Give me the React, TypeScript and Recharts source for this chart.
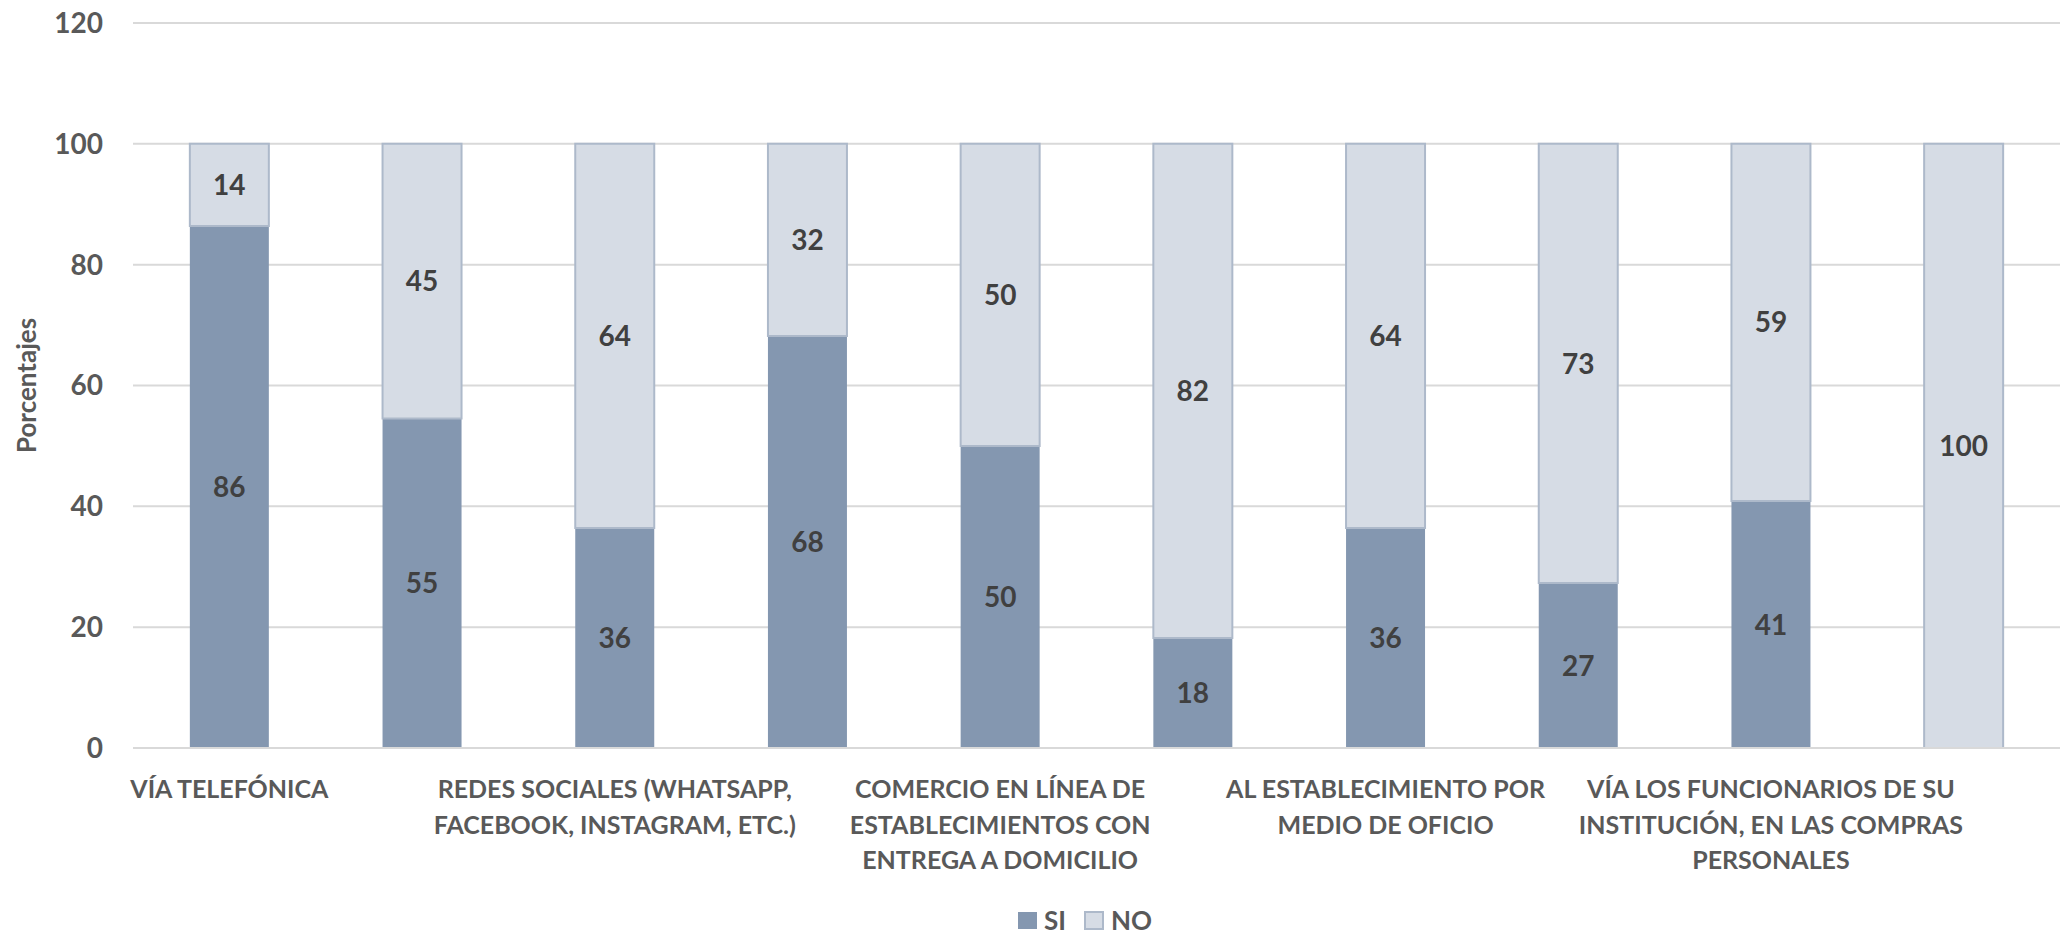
import React from "react";
import { BarChart, Bar, XAxis, YAxis, CartesianGrid, Legend, LabelList } from "recharts";

const categories = [
  "VÍA TELEFÓNICA",
  "CATEGORÍA 2",
  "REDES SOCIALES (WHATSAPP,\nFACEBOOK, INSTAGRAM, ETC.)",
  "CATEGORÍA 4",
  "COMERCIO EN LÍNEA DE\nESTABLECIMIENTOS CON\nENTREGA A DOMICILIO",
  "CATEGORÍA 6",
  "AL ESTABLECIMIENTO POR\nMEDIO DE OFICIO",
  "CATEGORÍA 8",
  "VÍA LOS FUNCIONARIOS DE SU\nINSTITUCIÓN, EN LAS COMPRAS\nPERSONALES",
  "CATEGORÍA 10",
];
const siValues = [86.4, 54.55, 36.4, 68.2, 50, 18.2, 36.4, 27.3, 40.9, 0];
const noValues = [13.6, 45.45, 63.6, 31.8, 50, 81.8, 63.6, 72.7, 59.1, 100];
const yTicks = [0, 20, 40, 60, 80, 100, 120];

const data = categories.map((c, i) => ({ name: c, SI: siValues[i], NO: noValues[i] }));

const FONT = "Lato, 'Open Sans', sans-serif";
const SI_COLOR = "#8497B0";
const NO_COLOR = "#D6DCE5";
const NO_STROKE = "#ADB9CA";
const TEXT = "#595959";

const XTick = (props: any) => {
  const { x, y, payload } = props;
  const lines = String(payload.value).split("\n");
  return (
    <text x={x} y={y + 48} textAnchor="middle" fill={TEXT} fontFamily={FONT} fontWeight={700} fontSize={25}>
      {lines.map((l: string, i: number) => (
        <tspan key={i} x={x} dy={i === 0 ? 0 : 35.5}>
          {l}
        </tspan>
      ))}
    </text>
  );
};

const renderLabel = (props: any) => {
  const { x, y, width, height, value } = props;
  if (!value) return null;
  return (
    <text
      x={x + width / 2}
      y={y + height / 2}
      dy="0.36em"
      textAnchor="middle"
      fill="#404040"
      fontFamily={FONT}
      fontWeight={700}
      fontSize={28}
    >
      {Math.round(value)}
    </text>
  );
};

const YLabel = (props: any) => {
  const vb = props.viewBox || {};
  const cy = (vb.y ?? 23) + (vb.height ?? 725) / 2;
  const cx = 36;
  return (
    <text
      x={cx}
      y={cy}
      transform={`rotate(-90, ${cx}, ${cy})`}
      textAnchor="middle"
      fill={TEXT}
      fontFamily={FONT}
      fontWeight={700}
      fontSize={26}
    >
      Porcentajes
    </text>
  );
};

const LegendContent = () => (
  <div
    style={{
      display: "flex",
      justifyContent: "center",
      alignItems: "center",
      fontFamily: FONT,
      fontWeight: 700,
      fontSize: 26,
      lineHeight: "30px",
      color: TEXT,
      paddingTop: 47,
      paddingLeft: 110,
    }}
  >
    <div style={{ display: "flex", alignItems: "center", marginRight: 18 }}>
      <div style={{ width: 19, height: 17, background: SI_COLOR, marginRight: 7 }} />
      <span>SI</span>
    </div>
    <div style={{ display: "flex", alignItems: "center" }}>
      <div
        style={{
          width: 16,
          height: 15,
          background: NO_COLOR,
          border: `2px solid ${NO_STROKE}`,
          marginRight: 7,
        }}
      />
      <span>NO</span>
    </div>
  </div>
);

export default function App() {
  return (
    <div style={{ position: "absolute", left: 0, top: 0, background: "#fff" }}>
      <BarChart
        width={2060}
        height={932}
        data={data}
        margin={{ top: 23, right: 0, bottom: 0, left: 0 }}
        barCategoryGap="29.5%"
      >
        <CartesianGrid vertical={false} stroke="#D9D9D9" strokeWidth={2} />
        <XAxis
          dataKey="name"
          interval={1}
          tick={<XTick />}
          tickLine={false}
          axisLine={{ stroke: "#D9D9D9", strokeWidth: 2 }}
          height={110}
          tickSize={0}
        />
        <YAxis
          domain={[0, 120]}
          ticks={yTicks}
          width={133}
          tickLine={false}
          axisLine={false}
          tickSize={0}
          tickMargin={30}
          tick={{ fill: TEXT, fontFamily: FONT, fontWeight: 700, fontSize: 28 }}
          label={<YLabel />}
        />
        <Legend verticalAlign="bottom" height={74} content={<LegendContent />} />
        <Bar dataKey="SI" stackId="a" fill={SI_COLOR} isAnimationActive={false}>
          <LabelList dataKey="SI" content={renderLabel} />
        </Bar>
        <Bar dataKey="NO" stackId="a" fill={NO_COLOR} stroke={NO_STROKE} strokeWidth={2} isAnimationActive={false}>
          <LabelList dataKey="NO" content={renderLabel} />
        </Bar>
      </BarChart>
    </div>
  );
}
